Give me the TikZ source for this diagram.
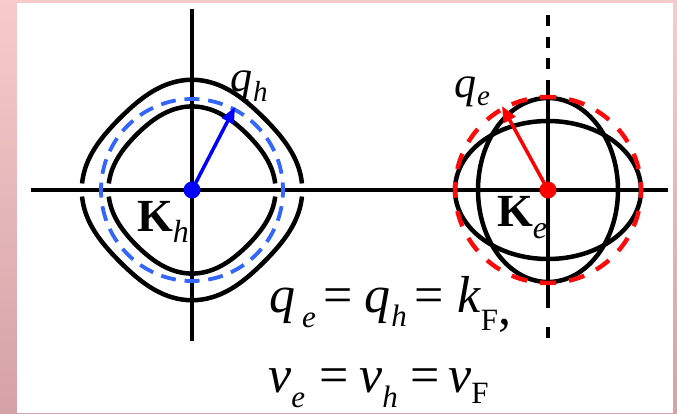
\documentclass[tikz,border=0pt]{standalone}
\usepackage{fontspec}
\setmainfont{Liberation Serif}[UprightFont={Liberation Serif}, ItalicFont={Liberation Serif Italic}, BoldFont={Liberation Serif Bold}, BoldItalicFont={Liberation Serif Bold Italic}]
\usepackage{graphicx}
\usetikzlibrary{arrows.meta}
\newcommand\lowsub[3]{\raisebox{-#2pt}{\fontsize{#1pt}{#1pt}\selectfont #3}}
\definecolor{pinkT}{RGB}{247,203,204}
\definecolor{pinkB}{RGB}{212,162,167}
\definecolor{dashblue}{RGB}{51,102,255}
\definecolor{dashred}{RGB}{255,10,10}
\begin{document}
\begin{tikzpicture}[x=1pt,y=-1pt,
  axis/.style={line width=3.2pt, black},
  fermi/.style={line width=4.5pt, black},
  bluering/.style={line width=3.8pt, dashblue, dash pattern=on 15pt off 8.82pt, dash phase=7.5pt},
  redring/.style={line width=4.4pt, dashred, dash pattern=on 16pt off 13.22pt, dash phase=8pt},
  lbl/.style={anchor=base west, inner sep=0pt}]
\useasboundingbox (0,0) rectangle (677,413);
\shade[top color=pinkT, bottom color=pinkB] (0,0) rectangle (677,413);
\fill[white] (17,3) rectangle (673,413);
% axes
\coordinate (hL) at (31,190);
\coordinate (hR) at (668,190);
\coordinate (v1T) at (192,9);
\coordinate (v1B) at (192,341);
\coordinate (v2T) at (548,15);
\coordinate (v2a) at (548,81);
\coordinate (v2b) at (548,308);
\coordinate (v2c) at (548,327);
\coordinate (v2B) at (548,338);
\draw[axis] (hL) -- (hR);
\draw[axis] (v1T) -- (v1B);
\draw[axis, dash pattern=on 11pt off 10.5pt] (v2T) -- (v2a);
\draw[axis] (v2a) -- (v2b);
\draw[axis] (v2c) -- (v2B);
% left Fermi surfaces
\draw[fermi] plot[domain=3.4:176.6, samples=90, smooth, variable=\t]
  ({192+106*(1+0.04*cos(4*\t))*cos(\t)}, {190-106*(1+0.04*cos(4*\t))*sin(\t)});
\draw[fermi] plot[domain=183.4:356.6, samples=90, smooth, variable=\t]
  ({192+106*(1+0.04*cos(4*\t))*cos(\t)}, {190-106*(1+0.04*cos(4*\t))*sin(\t)});
\draw[fermi] plot[domain=4.5:175.5, samples=90, smooth, variable=\t]
  ({192+81*(1+0.032*cos(4*\t))*cos(\t)}, {190-81*(1+0.032*cos(4*\t))*sin(\t)});
\draw[fermi] plot[domain=184.5:355.5, samples=90, smooth, variable=\t]
  ({192+81*(1+0.032*cos(4*\t))*cos(\t)}, {190-81*(1+0.032*cos(4*\t))*sin(\t)});
\coordinate (Kh) at (192,190);
\draw[bluering] (Kh) circle (91);
% right Fermi surfaces
\coordinate (Ke) at (548,190);
\draw[fermi] (Ke) ellipse (70 and 92);
\draw[fermi] (Ke) ellipse (93 and 69);
\draw[redring] (Ke) circle (93);
% arrows
\coordinate (qhtip) at (235,107);
\coordinate (qetip) at (502,106);
\draw[line width=3.5pt, blue, -{Triangle[length=16pt,width=13pt]}] (Kh) -- (qhtip);
\draw[line width=3.5pt, red, -{Triangle[length=16pt,width=13pt]}] (Ke) -- (qetip);
\fill[blue] (Kh) circle (8.5);
\fill[red] (Ke) circle (8.5);
% labels
\node[lbl, font=\fontsize{44pt}{44pt}\selectfont] (qh) at (230,91) {\textit{q}\hspace{1pt}\lowsub{29}{10}{\textit{h}}};
\node[lbl, font=\fontsize{44pt}{44pt}\selectfont] (qe) at (454,97) {\textit{q}\hspace{1pt}\lowsub{29}{8}{\textit{e}}};
\node[lbl, font=\fontsize{46pt}{46pt}\selectfont] (Kht) at (137,231) {\textbf{K}\lowsub{32}{11}{\textit{h}}};
\node[lbl, font=\fontsize{46pt}{46pt}\selectfont] (Ket) at (497,226) {\textbf{K}\lowsub{32}{12}{\textit{e}}};
\node[lbl, font=\fontsize{52pt}{54pt}\selectfont] (eq1) at (269,312)
  {\textit{q}\hspace{7pt}\lowsub{31}{15}{\textit{e}}\hspace{8pt}=\hspace{11pt}\textit{q}\hspace{1pt}\lowsub{31}{14}{\textit{h}}\hspace{8pt}=\hspace{13pt}\textit{k}\lowsub{31}{18}{F}\raisebox{-12pt}{,}};
\node[lbl, font=\fontsize{52pt}{54pt}\selectfont] (eq2) at (268,392)
  {\textit{v}\lowsub{31}{15}{\textit{e}}\hspace{14pt}=\hspace{11pt}\textit{v}\lowsub{31}{15}{\textit{h}}\hspace{13pt}=\hspace{8pt}\textit{v}\lowsub{31}{11}{F}};
\end{tikzpicture}
\end{document}
